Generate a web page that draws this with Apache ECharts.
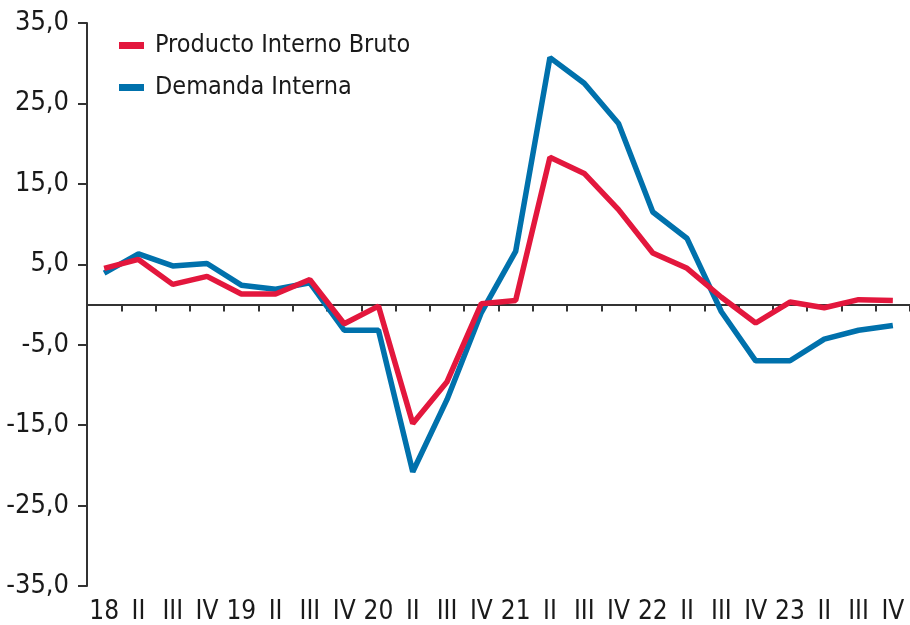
<!DOCTYPE html>
<html>
<head>
<meta charset="utf-8">
<script src="https://cdn.jsdelivr.net/npm/echarts@6/dist/echarts.min.js"></script>
<style>
  html, body { margin: 0; padding: 0; background: #fff; }
  #chart { width: 910px; height: 625px; }
</style>
</head>
<body>
<div id="chart"></div>
<script>
var quarters = ['18', 'II', 'III', 'IV', '19', 'II', 'III', 'IV', '20', 'II', 'III', 'IV',
                '21', 'II', 'III', 'IV', '22', 'II', 'III', 'IV', '23', 'II', 'III', 'IV'];
var pib = [4.5, 5.6, 2.5, 3.5, 1.3, 1.3, 3.1, -2.4, -0.2, -14.8, -9.6, 0.1,
           0.5, 18.3, 16.3, 11.8, 6.4, 4.5, 0.9, -2.3, 0.3, -0.4, 0.6, 0.5];
var demanda = [3.9, 6.3, 4.8, 5.1, 2.4, 1.9, 2.7, -3.2, -3.2, -20.8, -11.8, -1.0,
               6.6, 30.7, 27.5, 22.5, 11.5, 8.2, -0.9, -7.0, -7.0, -4.3, -3.2, -2.6];
var yTicks = [-35, -25, -15, -5, 5, 15, 25, 35];

var font = "'Liberation Sans Narrow', 'DejaVu Sans Condensed', 'Liberation Sans', sans-serif";
var dark = '#333333';

var myChart = echarts.init(document.getElementById('chart'));
var option = {
    animation: false,
    textStyle: {fontFamily: font},
    grid: {left: 87, right: -8, top: 23, bottom: 39, containLabel: false},
    legend: {
        orient: 'vertical',
        left: 119,
        top: 33,
        padding: 0,
        itemWidth: 25,
        itemHeight: 7,
        itemGap: 17,
        icon: 'rect',
        textStyle: {fontFamily: font, fontSize: 25, color: '#1a1a1a', padding: [0, 0, 0, 6]},
        data: ['Producto Interno Bruto', 'Demanda Interna']
    },
    xAxis: [
        {
            // etiquetas abajo
            type: 'category',
            data: quarters,
            position: 'bottom',
            axisLine: {show: false, onZero: false},
            axisTick: {show: false},
            axisLabel: {interval: 0, margin: 13, fontFamily: font, fontSize: 26, color: '#1a1a1a'},
            splitLine: {show: false}
        },
        {
            // linea del cero con marcas
            type: 'category',
            data: quarters,
            position: 'top',
            axisLine: {show: true, onZero: true, lineStyle: {color: dark, width: 2}},
            axisTick: {show: true, inside: true, length: 7, lineStyle: {color: dark, width: 2}},
            axisLabel: {show: false},
            splitLine: {show: false}
        }
    ],
    yAxis: {
        type: 'value',
        min: -35,
        max: 35,
        interval: 5,
        axisLine: {show: true, onZero: false, lineStyle: {color: dark, width: 2}},
        axisTick: {show: true, length: 9, customValues: yTicks, lineStyle: {color: dark, width: 2}},
        axisLabel: {
            margin: 18,
            fontFamily: font,
            fontSize: 27,
            color: '#1a1a1a',
            customValues: yTicks,
            formatter: function (v) { return v.toFixed(1).replace('.', ','); }
        },
        splitLine: {show: false}
    },
    series: [
        {
            name: 'Producto Interno Bruto',
            type: 'line',
            xAxisIndex: 0,
            data: pib,
            symbol: 'none',
            z: 3,
            itemStyle: {color: '#E3173D'},
            lineStyle: {color: '#E3173D', width: 5.5}
        },
        {
            name: 'Demanda Interna',
            type: 'line',
            xAxisIndex: 0,
            data: demanda,
            symbol: 'none',
            z: 2,
            itemStyle: {color: '#0071AC'},
            lineStyle: {color: '#0071AC', width: 5.5}
        }
    ]
};
myChart.setOption(option);
</script>
</body>
</html>
